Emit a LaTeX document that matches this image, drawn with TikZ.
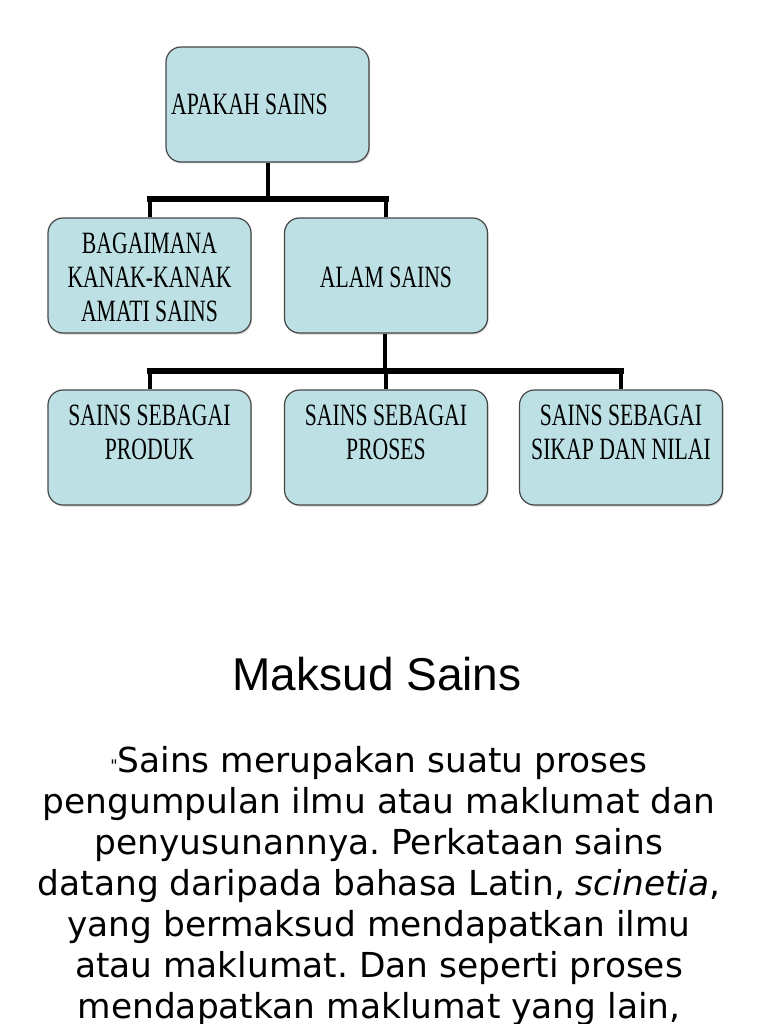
\documentclass[tikz,border=0pt]{standalone}
\usepackage{fontspec}
\setmainfont{Liberation Serif}
\newfontfamily\boxfont[FakeStretch=0.70]{Liberation Serif}
\newfontfamily\titlefont{Liberation Sans}
\newfontfamily\bodyfont{DejaVu Sans}
\usetikzlibrary{shadows}
\definecolor{boxfill}{RGB}{188,224,228}
\definecolor{boxline}{RGB}{70,70,70}
\frenchspacing
\tikzset{
  sbox/.style={draw=boxline, line width=1.2pt, fill=boxfill, rounded corners=15pt,
    minimum width=203pt, minimum height=115pt, inner sep=0pt,
    drop shadow={shadow xshift=1pt, shadow yshift=-1.5pt, opacity=0.35}},
  btext/.style={font=\boxfont\fontsize{31}{34}\selectfont, align=center, inner sep=0pt, anchor=base},
  stem/.style={line width=4pt},
  bar/.style={line width=6pt, line cap=rect},
}
\begin{document}
\begin{tikzpicture}[x=1pt,y=-1pt]
\useasboundingbox (0,0) rectangle (768,1024);
% boxes
\node[sbox] (top) at (267.5,104.5) {};
\node[sbox] (bag) at (149.5,275.5) {};
\node[sbox] (alam) at (386,275.5) {};
\node[sbox] (p1) at (149.5,447.5) {};
\node[sbox] (p2) at (386,447.5) {};
\node[sbox] (p3) at (621,447.5) {};
% box texts (base anchor = baseline of last line)
\node[btext, anchor=base west] (ttop) at (171,115) {APAKAH SAINS};
\node[btext] (tbag) at (149.5,321) {BAGAIMANA\\KANAK-KANAK\\AMATI SAINS};
\node[btext] (talam) at (386,287) {ALAM SAINS};
\node[btext] (tp1) at (149.5,459) {SAINS SEBAGAI\\PRODUK};
\node[btext] (tp2) at (386,459) {SAINS SEBAGAI\\PROSES};
\node[btext] (tp3) at (621,459) {SAINS SEBAGAI\\SIKAP DAN NILAI};
% connectors
\coordinate (j1) at (268,199);
\coordinate (j2) at (385,371);
\draw[stem] (top.south -| j1) -- (j1);
\draw[bar] (bag.north |- j1) -- (alam.north |- j1);
\draw[stem] (bag.north |- j1) -- (bag.north);
\draw[stem] (alam.north |- j1) -- (alam.north);
\draw[stem] (alam.south -| j2) -- (j2);
\draw[bar] (p1.north |- j2) -- (p3.north |- j2);
\draw[stem] (p1.north |- j2) -- (p1.north);
\draw[stem] (p2.north |- j2) -- (p2.north);
\draw[stem] (p3.north |- j2) -- (p3.north);
% title and body
\node[font=\titlefont\fontsize{46}{50}\selectfont, anchor=base, inner sep=0pt] (title) at (377,690) {Maksud Sains};
\node[font=\bodyfont\fontsize{34.4}{41}\selectfont, align=center, anchor=base, inner sep=0pt] (body) at (379,1018)
{\raisebox{1pt}{\fontsize{16}{16}\selectfont"}Sains merupakan suatu proses\\
pengumpulan ilmu atau maklumat dan\\
penyusunannya. Perkataan sains\\
datang daripada bahasa Latin, \textit{scinetia},\\
yang bermaksud mendapatkan ilmu\\
atau maklumat. Dan seperti proses\\
mendapatkan maklumat yang lain,};
\end{tikzpicture}
\end{document}
